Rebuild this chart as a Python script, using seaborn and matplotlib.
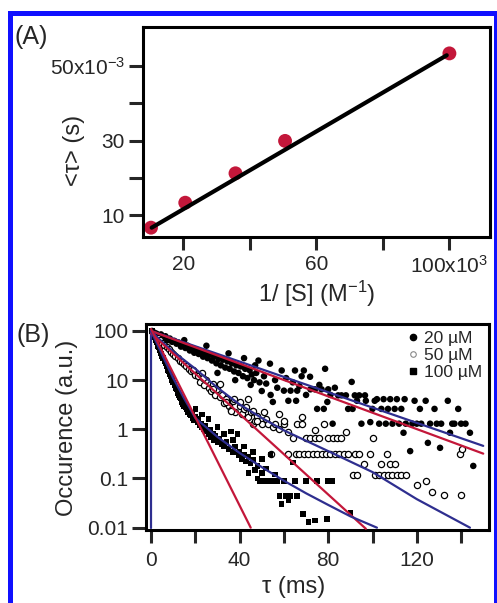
import numpy as np
import pandas as pd
import matplotlib
matplotlib.use('Agg')
import matplotlib.pyplot as plt
import seaborn as sns
from matplotlib.patches import Rectangle
from matplotlib.lines import Line2D
from matplotlib.ticker import NullLocator

#%%
# Panel A: mean dwell time vs inverse substrate concentration
inv_conc = [10.3, 20.6, 35.7, 50.6, 100.0]      # 1/[S] in 10^3 M^-1
tau_mean = [6.6, 13.3, 21.2, 29.9, 53.4]        # <tau> in 10^-3 s
fit_a_x = [10.5, 99.2]
fit_a_y = [6.6, 52.9]

#%%
# Panel B: dwell time histograms (tau in ms, occurrence in a.u.)
pts_20 = [(0.5, 100), (1.5, 92), (2.5, 88), (3.5, 80), (4.5, 85), (5.5, 72), (6.5, 78), (7.5, 65),
          (8.5, 70), (9.5, 60), (10.5, 63), (11.5, 55), (12.5, 58), (13.5, 48), (14.5, 52), (15.5, 45),
          (16.5, 50), (17.5, 40), (18.5, 44), (19.5, 36), (20.5, 42), (21.5, 34), (22.5, 38), (23.5, 30),
          (24.5, 35), (25.5, 28), (26.5, 33), (27.5, 25), (28.5, 30), (29.5, 22), (30.5, 27), (31.5, 20),
          (32.5, 26), (33.5, 18), (34.5, 24), (35.5, 17), (36.5, 22), (37.5, 15), (38.5, 20), (39.5, 14),
          (40.5, 19), (41.5, 12), (42.5, 17), (43.5, 11), (44.5, 16), (45.5, 13), (46.5, 10), (47.5, 14),
          (48.5, 25), (49, 9), (50, 6), (51, 12), (52, 8.5), (53.7, 21.6), (55, 3.6), (56, 10), (57, 7),
          (59, 15.7), (60, 6.1), (61, 11), (62, 3.8), (63, 6.1), (64, 9), (65, 15.7), (65.5, 3.8),
          (66, 6.1), (67, 7.5), (68, 12), (69, 15.7), (70, 5), (71.8, 11.7), (72, 6.5), (74, 6.5),
          (75, 2.6), (76, 8), (77, 6.5), (78.6, 17), (78, 2.6), (79.6, 3.6), (80, 6.5), (81, 5),
          (82, 1.3), (83, 7), (84.5, 4.9), (86, 4.9), (88, 4.9), (89, 2.6), (90.6, 9.2), (91, 2.6),
          (92, 4.9), (93, 3.8), (94, 4.9), (95, 1.3), (96.6, 4.9), (97, 3.8), (99, 1.4), (100, 2.6),
          (101, 3.8), (102, 4.1), (103, 1.3), (104, 2.6), (105, 4.1), (106, 1.3), (107, 2.6), (108, 4.1),
          (109, 1.3), (110, 2.6), (111, 4.1), (112, 1.3), (113, 2.6), (114, 0.85), (114.5, 4.1),
          (115, 1.3), (117, 0.36), (118, 1.3), (119, 3.8), (120, 1.3), (121.4, 2.6), (122, 1.3),
          (124, 3.8), (125, 0.53), (126, 1.3), (128, 2.6), (129, 1.3), (130.5, 0.42), (131, 1.3),
          (134, 3.8), (135, 0.85), (136, 1.3), (137, 1.3), (138.7, 2.6), (140, 1.3), (142, 1.3),
          (144, 0.85), (145.5, 0.18),
          (15, 65), (25, 50), (30, 14), (35, 35), (38, 10), (42, 28), (45, 8), (47, 20), (54, 5)]

pts_50 = [(1, 90), (2, 80), (3, 72), (4, 65), (5, 58), (6, 52), (7, 47), (8, 42), (9, 38), (10, 34),
          (11, 31), (12, 28), (13, 25), (14, 23), (15, 21), (16, 19), (17, 17), (18, 15), (19, 16),
          (20, 13), (21, 12), (22, 9), (23, 14), (24, 8), (25, 10), (26, 7), (27, 6), (28, 8.5), (29, 5),
          (30, 6.5), (31, 4.5), (32, 5), (33, 3.5), (34, 4.2), (35, 3), (36, 2.5), (37, 3.8), (38, 2.2),
          (40, 3), (41, 2), (42, 2.6), (44, 1.8), (45, 2.2), (46, 1.3), (47, 1.5), (48, 1.9), (50, 1.3),
          (52, 1.6), (53, 1.3), (54, 0.31), (55, 1.1), (56, 1.3), (58, 1.0), (60, 1.3), (61.8, 0.31),
          (62, 0.9), (64, 0.67), (65.5, 0.31), (66, 1.3), (67, 0.31), (68, 1.3), (69, 0.31), (70, 0.67),
          (71, 0.31), (72, 0.67), (73, 0.31), (74, 0.67), (75, 0.31), (76, 0.67), (77, 0.31), (78, 1.3),
          (79, 0.31), (80, 0.67), (81, 0.31), (82, 0.67), (83, 0.31), (84, 0.67), (85, 0.31), (86, 0.67),
          (87, 0.31), (89, 0.31), (91, 0.12), (92, 0.31), (93, 0.12), (94, 0.31), (96, 0.2), (99, 0.31),
          (100, 0.67), (101, 0.12), (103, 0.12), (104, 0.2), (105, 0.12), (106.5, 0.31), (107, 0.12),
          (108, 0.2), (109, 0.12), (110, 0.2), (111, 0.12), (113, 0.12), (115, 0.12), (120, 0.072),
          (124, 0.09), (127, 0.053), (132.5, 0.046), (139.5, 0.32), (140, 0.046), (140.5, 0.39),
          (23.6, 11), (28, 6.6), (31, 8.4), (34, 3.6), (36, 2.4), (37.5, 4.2), (40, 3.6), (43, 2.8),
          (44, 4.2), (46, 2.4), (48, 1.5), (51, 2.2), (58, 2), (60, 1.5), (68, 1.8), (74, 0.97),
          (88, 0.9)]

pts_100 = [(0.5, 100), (1, 85), (1.5, 75), (2, 65), (2.5, 58), (3, 50), (3.5, 46), (4, 40), (4.5, 35),
           (5, 30), (5.5, 28), (6, 24), (6.5, 22), (7, 19), (7.5, 16), (8, 15), (8.5, 13), (9, 12),
           (9.5, 10), (10, 9), (10.5, 8), (11, 7), (11.5, 6.5), (12, 5.5), (12.5, 5), (13, 4.5),
           (13.5, 4.2), (14, 3.6), (14.5, 3.3), (15, 3), (15.5, 2.8), (16, 2.6), (16.5, 2.2), (17, 2.4),
           (17.5, 2), (18, 1.9), (18.5, 2.1), (19, 1.7), (19.5, 1.5), (20, 1.8), (21, 1.4), (21.5, 1.6),
           (22, 1.2), (22.5, 1.3), (23, 1.1), (24, 1.0), (24.5, 1.2), (25, 0.9), (26, 0.8), (26.5, 1.0),
           (27, 0.7), (28, 0.8), (28.5, 0.6), (29, 0.75), (30, 0.55), (31, 0.65), (32, 0.5), (33, 0.45),
           (34, 0.55), (35, 0.4), (36, 0.9), (37, 0.35), (38, 0.45), (39, 0.8), (39.5, 0.3), (40, 0.35),
           (41, 0.25), (42, 0.3), (43, 0.22), (44, 0.28), (45, 0.2), (46, 0.24), (47, 0.15), (48, 0.18),
           (49, 0.088), (50, 0.13), (51, 0.088), (52, 0.16), (53, 0.088), (54, 0.31), (55, 0.088),
           (56, 0.12), (57, 0.088), (58, 0.044), (59, 0.03), (60, 0.088), (61, 0.044), (62, 0.036),
           (63, 0.044), (64, 0.21), (65, 0.088), (66, 0.044), (68.6, 0.019), (70, 0.088), (71, 0.013),
           (74, 0.014), (75, 0.088), (79.5, 0.015), (80, 0.088), (82, 0.088), (90, 0.02),
           (20, 2.6), (23, 2), (26, 1.6), (30, 1.1), (33, 0.8), (37, 0.6), (42, 0.45), (46, 0.35),
           (50, 0.25), (44, 0.13), (48, 0.1)]

# fit curves
red_20_t, red_20_y = [0, 150], [100, 0.32]
blue_20_t, blue_20_y = [0, 150], [100, 0.46]
red_50_t, red_50_y = [0, 97], [89, 0.0095]
blue_50_t = [0, 5, 10, 20, 30, 40, 50, 60, 80, 100, 120, 144]
blue_50_y = [100, 60, 38, 17, 7, 3.2, 1.7, 0.95, 0.36, 0.135, 0.038, 0.01]
red_100_t, red_100_y = [0, 45], [110, 0.01]
blue_100_t = [0, 5, 10, 15, 20, 30, 40, 50, 60, 70, 80, 90, 102]
blue_100_y = [100, 33, 11, 4.2, 1.7, 0.7, 0.33, 0.17, 0.09, 0.05, 0.029, 0.017, 0.01]
vert_t, vert_y = [0, 0], [0.01, 100]

labels_b = ['20 µM', '50 µM', '100 µM']

#%%
sns.set_style('ticks')
plt.rcParams['font.family'] = ['Liberation Sans', 'DejaVu Sans']
plt.rcParams['mathtext.default'] = 'regular'
plt.rcParams['axes.linewidth'] = 2.2

red = '#c3173a'
navy = '#2e2e8f'
fs = 15      # tick labels
fs_lab = 17  # axis labels

fig = plt.figure(figsize=(4.97, 6.03), dpi=100)
ax_a = fig.add_axes([0.2871, 0.6070, 0.6988, 0.3483])
ax_b = fig.add_axes([0.2932, 0.1216, 0.6907, 0.3415])

# Panel A
df_a = pd.DataFrame({'x': inv_conc, 'y': tau_mean})
sns.lineplot(x=fit_a_x, y=fit_a_y, ax=ax_a, color='black', lw=3.0, zorder=3)
sns.scatterplot(data=df_a, x='x', y='y', ax=ax_a, color=red, s=100, edgecolor='none', zorder=2)
ax_a.set_xlim(7.8, 112.2)
ax_a.set_ylim(4.1, 60.5)
ax_a.set_xticks([20, 40, 60, 80, 100])
ax_a.set_xticklabels(['20', '', '60', '', '100x10$^3$'], fontsize=fs)
ax_a.set_yticks([10, 20, 30, 40, 50])
ax_a.set_yticklabels(['10', '', '30', '', '50x10$^{-3}$'], fontsize=fs)
ax_a.tick_params(axis='y', length=10, width=2.2, pad=3)
ax_a.tick_params(axis='x', length=9, width=2.2, pad=4)
ax_a.set_ylabel('<τ> (s)', fontsize=fs_lab)
ax_a.yaxis.set_label_coords(-0.166, 0.414)
ax_a.set_xlabel('1/ [S] (M$^{-1}$)', fontsize=fs_lab)
ax_a.xaxis.set_label_coords(0.5, -0.2)

# Panel B
df_20 = pd.DataFrame(pts_20, columns=['tau', 'occ'])
df_50 = pd.DataFrame(pts_50, columns=['tau', 'occ'])
df_100 = pd.DataFrame(pts_100, columns=['tau', 'occ'])
sns.scatterplot(data=df_20, x='tau', y='occ', ax=ax_b, marker='o', color='black', s=22,
                edgecolor='none', zorder=2)
sns.scatterplot(data=df_50, x='tau', y='occ', ax=ax_b, marker='o', facecolor='white', s=20,
                edgecolor='black', linewidth=0.9, zorder=2)
sns.scatterplot(data=df_100, x='tau', y='occ', ax=ax_b, marker='s', color='black', s=16,
                edgecolor='none', zorder=2)

for tt, yy, c in [(vert_t, vert_y, navy),
                  (blue_20_t, blue_20_y, navy), (red_20_t, red_20_y, red),
                  (blue_50_t, blue_50_y, navy), (red_50_t, red_50_y, red),
                  (blue_100_t, blue_100_y, navy), (red_100_t, red_100_y, red)]:
    sns.lineplot(x=tt, y=yy, ax=ax_b, color=c, lw=1.6, sort=False, estimator=None, zorder=3)

ax_b.set_yscale('log')
ax_b.set_xlim(-2.4, 152.6)
ax_b.set_ylim(0.0091, 140)
ax_b.set_yticks([0.01, 0.1, 1, 10, 100])
ax_b.set_yticklabels(['0.01', '0.1', '1', '10', '100'], fontsize=fs)
ax_b.yaxis.set_minor_locator(NullLocator())
ax_b.set_xticks([0, 20, 40, 60, 80, 100, 120, 140])
ax_b.set_xticklabels(['0', '', '40', '', '80', '', '120', ''], fontsize=fs)
ax_b.tick_params(axis='y', length=10, width=2.2, pad=2.5)
ax_b.tick_params(axis='x', length=9, width=2.2, pad=6)
ax_b.set_ylabel('Occurence (a.u.)', fontsize=fs_lab)
ax_b.yaxis.set_label_coords(-0.197, 0.496)
ax_b.set_xlabel('τ (ms)', fontsize=fs_lab)
ax_b.xaxis.set_label_coords(0.43, -0.225)

handles = [Line2D([], [], ls='none', marker='o', color='black', ms=4.5),
           Line2D([], [], ls='none', marker='o', mfc='white', mec='#888888', ms=4, mew=0.8),
           Line2D([], [], ls='none', marker='s', color='black', ms=4)]
ax_b.legend(handles, labels_b, loc='upper right', frameon=False, fontsize=12.5,
            handlelength=0.6, handletextpad=0.35, labelspacing=0.1, borderaxespad=0.0)

for ax in [ax_a, ax_b]:
    for sp in ax.spines.values():
        sp.set_visible(True)
        sp.set_linewidth(2.2)
        sp.set_color('black')

fig.text(0.030, 0.939, '(A)', fontsize=18, va='center', ha='left')
fig.text(0.034, 0.444, '(B)', fontsize=18, va='center', ha='left')

# blue frame around the figure
fig.add_artist(Rectangle((9.5 / 497, -0.05), (495.5 - 9.5) / 497, 1 - 12.5 / 603 + 0.05,
                         transform=fig.transFigure, fill=False, edgecolor='#1010ff', lw=3.6,
                         clip_on=False))

fig.savefig('out.png', dpi=100)
